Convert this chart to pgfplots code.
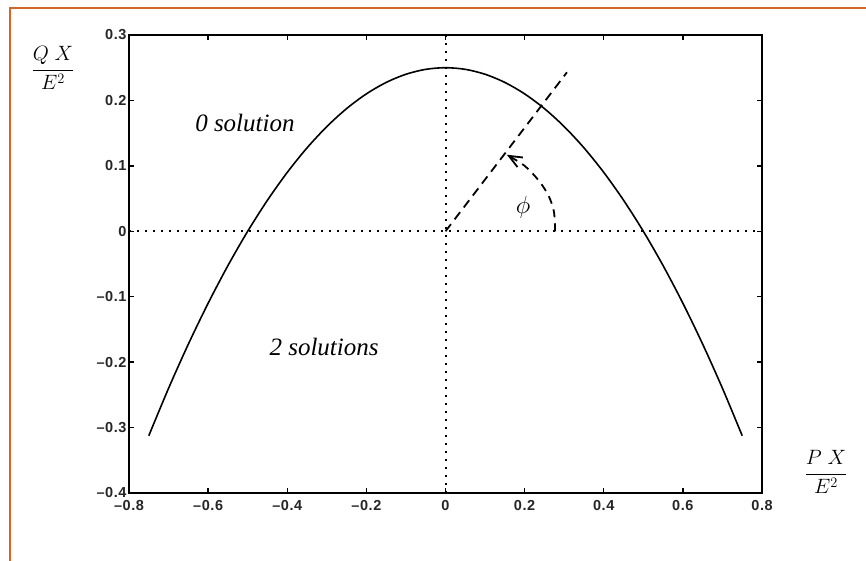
\documentclass[border=0pt]{standalone}
\usepackage{fontspec}
\setmainfont{Liberation Serif}
\newfontfamily\tickfont[LetterSpace=4]{Liberation Sans}
\usepackage{pgfplots}
\pgfplotsset{compat=1.18}
\usetikzlibrary{arrows.meta}
\definecolor{frameorange}{RGB}{208,104,40}

\begin{document}
\begin{tikzpicture}[x=1pt,y=1pt]
\useasboundingbox (0,0) rectangle (866,561);
\fill[white] (0,0) rectangle (866,561);
% frame
\draw[frameorange, line width=2.8pt] (10,0) -- (10,553) -- (866,553);
\begin{axis}[
  at={(129pt,68pt)}, anchor=south west,
  scale only axis, width=633pt, height=458pt,
  xmin=-0.8, xmax=0.8, ymin=-0.4, ymax=0.3,
  xtick={-0.8,-0.6,-0.4,-0.2,0,0.2,0.4,0.6,0.8},
  xticklabels={\textendash0.8,\textendash0.6,\textendash0.4,\textendash0.2,0,0.2,0.4,0.6,0.8},
  ytick={-0.4,-0.3,-0.2,-0.1,0,0.1,0.2,0.3},
  yticklabels={\textendash0.4,\textendash0.3,\textendash0.2,\textendash0.1,0,0.1,0.2,0.3},
  tick align=inside, major tick length=5pt,
  tick style={line width=1.3pt, black},
  axis line style={line width=1.8pt},
  ticklabel style={font=\tickfont\bfseries\fontsize{14.5}{16}\selectfont, text=black!85},
  xticklabel style={yshift=-4pt},
  yticklabel style={xshift=1pt},
]
% boundary curve
\addplot[black, line width=1.6pt, smooth] coordinates {
  (-0.75,-0.3125) (-0.70,-0.24) (-0.65,-0.1725) (-0.60,-0.11) (-0.55,-0.0525)
  (-0.50,0) (-0.45,0.0475) (-0.40,0.09) (-0.35,0.1275) (-0.30,0.16)
  (-0.25,0.1875) (-0.20,0.21) (-0.15,0.2275) (-0.10,0.24) (-0.05,0.2475)
  (0,0.25)
  (0.05,0.2475) (0.10,0.24) (0.15,0.2275) (0.20,0.21) (0.25,0.1875)
  (0.30,0.16) (0.35,0.1275) (0.40,0.09) (0.45,0.0475) (0.50,0)
  (0.55,-0.0525) (0.60,-0.11) (0.65,-0.1725) (0.70,-0.24) (0.75,-0.3125)
};
% dotted axes through the origin
\addplot[black, line width=2pt, dash pattern=on 2pt off 6pt] coordinates {(-0.8,0) (0.8,0)};
\addplot[black, line width=2pt, dash pattern=on 2pt off 6pt] coordinates {(0,-0.4) (0,0.3)};
% direction line
\addplot[black, line width=1.8pt, dash pattern=on 9pt off 6pt] coordinates {(0,0) (0.307,0.243)};
% angle arc
\addplot[black, line width=1.8pt, dash pattern=on 8pt off 6pt, smooth,
  -{Straight Barb[length=13pt,width=11pt,line width=1.8pt]}] coordinates {
  (0.277,0) (0.274,0.03) (0.26,0.055) (0.235,0.078) (0.2,0.1) (0.155,0.117)
};
\node at (axis cs:-0.507,0.1655) {\fontsize{25}{28}\selectfont\itshape 0 solution};
\node at (axis cs:-0.307,-0.177) {\fontsize{25}{28}\selectfont\itshape 2 solutions};
\node at (axis cs:0.196,0.036) {\fontsize{26}{28}\selectfont$\phi$};
\end{axis}
\node at (53,493) {\fontsize{21}{24}\selectfont$\displaystyle\frac{Q\mkern5mu X}{E^2}$};
\node at (826,89) {\fontsize{21}{24}\selectfont$\displaystyle\frac{P\mkern5mu X}{E^2}$};
\end{tikzpicture}
\end{document}
